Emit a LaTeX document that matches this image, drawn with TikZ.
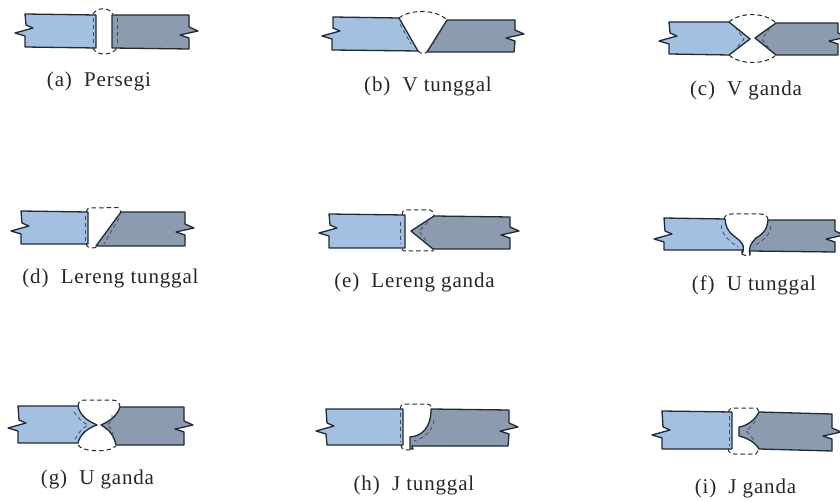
\documentclass[tikz,border=0pt]{standalone}
\usepackage{fontspec}
\setmainfont[LetterSpace=4]{Liberation Serif}
\definecolor{lblue}{HTML}{A3C0E0}
\definecolor{rgrey}{HTML}{8C9BAF}
\definecolor{ink}{HTML}{1F2A34}
\definecolor{txt}{HTML}{262626}
\tikzset{
  plateL/.style={fill=lblue,draw=ink,line width=1.3pt,line join=round},
  plateR/.style={fill=rgrey,draw=ink,line width=1.3pt,line join=round},
  weld/.style={draw=ink,line width=1pt,dash pattern=on 4.5pt off 3pt},
  inner/.style={draw=ink!75!lblue,line width=0.8pt,dash pattern=on 4pt off 3pt},
  lab/.style={font=\fontsize{21}{24}\selectfont,text=txt,inner sep=0pt,anchor=center}
}
% notches: left side runs upward, right side runs downward
\newcommand\LN[2]{-- (#1,#2+4) -- (#1-10,#2+1) -- (#1+8,#2-4) -- (#1+1,#2-7)}
\newcommand\RN[2]{-- (#1,#2-5) -- (#1+9,#2-1) -- (#1-9,#2+3) -- (#1,#2+6)}
\begin{document}
\begin{tikzpicture}[x=1pt,y=-1pt]
\useasboundingbox (0,0) rectangle (840,502);
\fill[white] (0,0) rectangle (840,502);

% (a)
\draw[plateL] (25,14) -- (96,15) -- (96,48) -- (25,47) \LN{25}{32} -- cycle;
\draw[plateR] (112,15) -- (189,15) \RN{189}{32} -- (189,49) -- (112,48) -- cycle;
\draw[weld] (93,14) .. controls (97,7) and (109,7) .. (113,14);
\draw[weld] (93,48) .. controls (96,56) and (112,56) .. (117,48);
\draw[inner] (93,18) -- (93,46);
\draw[inner] (117,18) -- (117,46);
\node[lab] (la) at (99,81) {(a)\ \ Persegi};

% (b)
\draw[plateL] (333,17) -- (399,18) -- (418,51) -- (332,50) \LN{332}{35} -- cycle;
\draw[plateR] (447,20) -- (515,20) \RN{515}{35} -- (514,52) -- (427,52) -- cycle;
\draw[weld] (399,18) .. controls (410,9) and (436,9) .. (447,20);
\draw[weld] (418,51) .. controls (420,54) and (425,54) .. (427,52);
\draw[inner] (400,24) -- (411,44);
\draw[inner] (445,24) -- (433,44);
\node[lab] (lb) at (428,86) {(b)\ \ V tunggal};

% (c)
\draw[plateL] (669,22) -- (729,22) -- (750,39) -- (729,55) -- (669,54) \LN{669}{40} -- cycle;
\draw[plateR] (776,23) -- (838,23) \RN{838}{38} -- (838,55) -- (776,55) -- (755,38) -- cycle;
\draw[weld] (729,22) .. controls (740,12) and (765,12) .. (776,23);
\draw[weld] (729,55) .. controls (740,65) and (765,65) .. (776,55);
\draw[inner] (735,27) -- (744,39) -- (735,50);
\draw[inner] (770,28) -- (762,39) -- (770,50);
\node[lab] (lc) at (746,90) {(c)\ \ V ganda};

% (d)
\draw[plateL] (21,211) -- (88,212) -- (88,244) -- (21,244) \LN{21}{230} -- cycle;
\draw[plateR] (121,212) -- (185,212) \RN{185}{229} -- (185,246) -- (96,246) -- cycle;
\draw[weld] (86,212) .. controls (87,209) and (88,208) .. (91,208) -- (118,207.5) -- (121,212);
\draw[weld] (86,244) .. controls (87,248) and (92,249) .. (97,247);
\draw[inner] (85,216) -- (85,242);
\draw[inner] (119,218) -- (104,244);
\node[lab] (ld) at (110.5,278) {(d)\ \ Lereng tunggal};

% (e)
\draw[plateL] (329,214) -- (405,215) -- (405,248) -- (329,248) \LN{329}{232} -- cycle;
\draw[plateR] (434,216) -- (510,217) \RN{510}{232} -- (510,249) -- (433,249) -- (411,231) -- cycle;
\draw[weld] (402,215) .. controls (402,212) and (403,210) .. (406,210) -- (430,210) .. controls (433,210) and (434,213) .. (434,216);
\draw[weld] (402,249) .. controls (403,251) and (404,251) .. (406,251) -- (433,251) -- (433,249);
\draw[inner] (400,222) -- (400,244);
\draw[inner] (428,222) -- (419,231) -- (428,243);
\node[lab] (le) at (414.5,282) {(e)\ \ Lereng ganda};

% (f)
\draw[plateL] (664,218) -- (725,219) .. controls (726,232) and (733,235) .. (739,240) .. controls (743,244) and (745,247) .. (742,254) -- (742,250) -- (664,250) \LN{664}{238} -- cycle;
\draw[plateR] (768,220) -- (835,220) \RN{835}{236} -- (835,252) -- (750,251) -- (750,255) .. controls (748,248) and (751,243) .. (756,238) .. controls (763,234) and (767,230) .. (768,220) -- cycle;
\draw[weld] (724,219) .. controls (725,215) and (728,214) .. (732,214) -- (760,214) .. controls (765,214) and (768,216) .. (768,220);
\draw[weld] (742,254) .. controls (745,256) and (748,256) .. (750,255);
\draw[inner] (721,225) .. controls (722,235) and (728,240) .. (738,247);
\draw[inner] (771,226) .. controls (770,236) and (763,240) .. (753,247);
\node[lab] (lf) at (754,285) {(f)\ \ U tunggal};

% (g)
\draw[plateL] (18,406) -- (78,406) .. controls (80,416) and (88,421) .. (97,425) .. controls (88,428) and (80,434) .. (78,443) -- (18,443) \LN{18}{427} -- cycle;
\draw[plateR] (120,407) -- (184,407) \RN{184}{426} -- (184,445) -- (116,445) .. controls (114,436) and (110,430) .. (101,425) .. controls (110,421) and (117,416) .. (120,407) -- cycle;
\draw[weld] (78,406) .. controls (78,402) and (81,400) .. (85,400) -- (112,400) .. controls (117,400) and (120,403) .. (120,407);
\draw[weld] (78,445) .. controls (82,452) and (110,453) .. (116,446);
\draw[inner] (74,412) .. controls (78,418) and (82,422) .. (88,425) .. controls (83,428) and (78,432) .. (75,440);
\draw[inner] (112,415) .. controls (112,420) and (112,422) .. (107,425) .. controls (112,428) and (113,432) .. (113,438);
\node[lab] (lg) at (97.5,479) {(g)\ \ U ganda};

% (h)
\draw[plateL] (326,409) -- (403,409) -- (403,445) -- (327,445) \LN{326}{430} -- cycle;
\draw[plateR] (431,409) -- (509,410) \RN{509}{428} -- (508,446) -- (412,446) -- (413,449) -- (410,449) -- (410,437) .. controls (422,436) and (431,428) .. (431,409) -- cycle;
\draw[weld] (400,409) .. controls (400,406) and (402,404) .. (405,404) -- (426,404) .. controls (430,404) and (432,406) .. (431,409);
\draw[weld] (401,445) .. controls (402,450) and (404,450) .. (410,450);
\draw[inner] (400,413) -- (400,442);
\draw[inner] (434,420) .. controls (433,430) and (425,438) .. (414,441);
\node[lab] (lh) at (414,485) {(h)\ \ J tunggal};

% (i)
\draw[plateL] (662,411) -- (732,412) -- (732,449) -- (662,449) \LN{662}{434} -- cycle;
\draw[plateR] (759,412) -- (832,414) \RN{832}{433} -- (832,451) -- (759,449) .. controls (755,442) and (747,438) .. (739,436) -- (739,427) .. controls (747,426) and (755,420) .. (759,412) -- cycle;
\draw[weld] (728,412) .. controls (729,409) and (731,408) .. (734,408) -- (757,408) -- (759,412);
\draw[weld] (728,449) .. controls (729,453) and (731,454) .. (735,454) -- (756,454) -- (759,449);
\draw[inner] (729,416) -- (729,446);
\draw[inner] (755,421) .. controls (752,426) and (750,428) .. (746,431) .. controls (750,434) and (752,437) .. (755,442);
\node[lab] (li) at (745.5,488) {(i)\ \ J ganda};
\end{tikzpicture}
\end{document}
